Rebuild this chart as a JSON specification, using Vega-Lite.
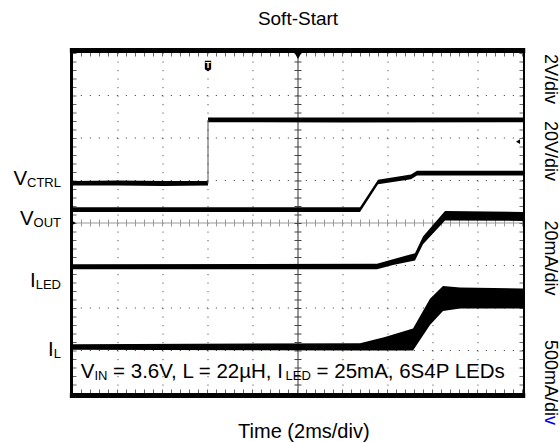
{
  "$schema": "https://vega.github.io/schema/vega-lite/v6.json",
  "width": 450,
  "height": 340,
  "autosize": {"type": "none"},
  "padding": {"left": 73, "top": 53, "right": 37, "bottom": 49},
  "background": "white",
  "config": {"view": {"stroke": null}, "text": {"font": "Liberation Sans", "color": "black"}},
  "data": {"values": [{}]},
  "datasets": {
    "traces": [
      {"s": "VCTRL", "seg": "a", "t": 0, "lo": 4.88, "hi": 4.99},
      {"s": "VCTRL", "seg": "a", "t": 1.0, "lo": 4.88, "hi": 5.0},
      {"s": "VCTRL", "seg": "a", "t": 2.0, "lo": 4.87, "hi": 4.99},
      {"s": "VCTRL", "seg": "a", "t": 3.0, "lo": 4.88, "hi": 4.99},
      {"s": "VCTRL", "seg": "b", "t": 3.0, "lo": 6.37, "hi": 6.48},
      {"s": "VCTRL", "seg": "b", "t": 6.0, "lo": 6.365, "hi": 6.485},
      {"s": "VCTRL", "seg": "b", "t": 10, "lo": 6.37, "hi": 6.48},
      {"s": "VOUT", "seg": "a", "t": 0, "lo": 4.26, "hi": 4.37},
      {"s": "VOUT", "seg": "a", "t": 6.378, "lo": 4.26, "hi": 4.37},
      {"s": "VOUT", "seg": "a", "t": 6.778, "lo": 4.91, "hi": 5.02},
      {"s": "VOUT", "seg": "a", "t": 7.511, "lo": 5.03, "hi": 5.14},
      {"s": "VOUT", "seg": "a", "t": 7.644, "lo": 5.12, "hi": 5.23},
      {"s": "VOUT", "seg": "a", "t": 10, "lo": 5.12, "hi": 5.23},
      {"s": "ILED", "seg": "a", "t": 0, "lo": 2.91, "hi": 3.03},
      {"s": "ILED", "seg": "a", "t": 6.756, "lo": 2.91, "hi": 3.04},
      {"s": "ILED", "seg": "a", "t": 7.111, "lo": 3.01, "hi": 3.15},
      {"s": "ILED", "seg": "a", "t": 7.6, "lo": 3.12, "hi": 3.29},
      {"s": "ILED", "seg": "a", "t": 7.778, "lo": 3.5, "hi": 3.68},
      {"s": "ILED", "seg": "a", "t": 8.267, "lo": 4.06, "hi": 4.28},
      {"s": "ILED", "seg": "a", "t": 10, "lo": 4.05, "hi": 4.26},
      {"s": "IL", "seg": "a", "t": 0, "lo": 1.02, "hi": 1.15},
      {"s": "IL", "seg": "a", "t": 6.378, "lo": 1.0, "hi": 1.17},
      {"s": "IL", "seg": "a", "t": 6.933, "lo": 1.0, "hi": 1.32},
      {"s": "IL", "seg": "a", "t": 7.556, "lo": 1.0, "hi": 1.52},
      {"s": "IL", "seg": "a", "t": 7.933, "lo": 1.6, "hi": 2.22},
      {"s": "IL", "seg": "a", "t": 8.222, "lo": 1.93, "hi": 2.52},
      {"s": "IL", "seg": "a", "t": 8.6, "lo": 1.99, "hi": 2.48},
      {"s": "IL", "seg": "a", "t": 10, "lo": 1.99, "hi": 2.46}
    ],
    "levels": [
      {"s": "VCTRL", "lvl": 4.93},
      {"s": "VOUT", "lvl": 4.0},
      {"s": "ILED", "lvl": 2.965},
      {"s": "IL", "lvl": 1.082}
    ],
    "gridX": [{"g": 1}, {"g": 2}, {"g": 3}, {"g": 4}, {"g": 6}, {"g": 7}, {"g": 8}, {"g": 9}],
    "gridY": [{"g": 1}, {"g": 2}, {"g": 3}, {"g": 5}, {"g": 6}, {"g": 7}],
    "leftMain": [
      {"txt": "V", "t": -1.02, "v": 4.894},
      {"txt": "V", "t": -0.876, "v": 3.953},
      {"txt": "I", "t": -0.829, "v": 2.494},
      {"txt": "I", "t": -0.427, "v": 0.871}
    ],
    "leftSub": [
      {"txt": "CTRL", "t": -0.267, "v": 4.847},
      {"txt": "OUT", "t": -0.267, "v": 3.906},
      {"txt": "LED", "t": -0.267, "v": 2.447},
      {"txt": "L", "t": -0.267, "v": 0.824}
    ],
    "noteMain": [
      {"txt": "V", "t": 0.171, "v": 0.353},
      {"txt": "= 3.6V, L = 22µH, I", "t": 0.891, "v": 0.353},
      {"txt": "= 25mA, 6S4P LEDs", "t": 5.413, "v": 0.353}
    ],
    "noteSub": [
      {"txt": "IN", "t": 0.476, "v": 0.306},
      {"txt": "LED", "t": 4.724, "v": 0.306}
    ],
    "scaleText": [
      {"txt": "2V/div", "v": 7.388},
      {"txt": "20V/div", "v": 5.694},
      {"txt": "20mA/div", "v": 3.176}
    ]
  },
  "layer": [
    {
      "data": {"name": "gridX"},
      "mark": {"type": "rule", "color": "#555", "strokeWidth": 1, "strokeDash": [1.2, 7.3]},
      "encoding": {
        "x": {"field": "g", "type": "quantitative", "scale": {"domain": [0, 10], "nice": false, "zero": false}, "axis": null}
      }
    },
    {
      "data": {"name": "gridY"},
      "mark": {"type": "rule", "color": "#555", "strokeWidth": 1, "strokeDash": [1.2, 7.8]},
      "encoding": {
        "y": {"field": "g", "type": "quantitative", "scale": {"domain": [0, 8], "nice": false, "zero": false}, "axis": null}
      }
    },
    {
      "mark": {"type": "rule", "color": "#999", "strokeWidth": 1},
      "encoding": {"y": {"datum": 4}}
    },
    {
      "mark": {"type": "rule", "color": "#999", "strokeWidth": 7, "strokeDash": [1, 8]},
      "encoding": {"y": {"datum": 4}}
    },
    {
      "mark": {"type": "rule", "color": "#333", "strokeWidth": 1},
      "encoding": {"x": {"datum": 5}}
    },
    {
      "mark": {"type": "rule", "color": "#444", "strokeWidth": 7, "strokeDash": [1, 7.5]},
      "encoding": {"x": {"datum": 5}}
    },
    {
      "mark": {"type": "rule", "color": "#666", "strokeWidth": 3.5, "strokeDash": [1, 8]},
      "encoding": {"y": {"datum": 0.041}}
    },
    {
      "mark": {"type": "rule", "color": "#666", "strokeWidth": 3.5, "strokeDash": [1, 8]},
      "encoding": {"y": {"datum": 7.959}}
    },
    {
      "mark": {"type": "rule", "color": "#666", "strokeWidth": 3.5, "strokeDash": [1, 7.5]},
      "encoding": {"x": {"datum": 0.039}}
    },
    {
      "mark": {"type": "rule", "color": "#666", "strokeWidth": 3.5, "strokeDash": [1, 7.5]},
      "encoding": {"x": {"datum": 9.961}}
    },
    {
      "data": {"name": "traces"},
      "mark": {"type": "area", "color": "black", "opacity": 1},
      "encoding": {
        "x": {"field": "t", "type": "quantitative"},
        "y": {"field": "hi", "type": "quantitative"},
        "y2": {"field": "lo"},
        "detail": [{"field": "s"}, {"field": "seg"}]
      }
    },
    {
      "mark": {"type": "rule", "color": "#555", "strokeWidth": 1},
      "encoding": {"x": {"datum": 3.0}, "y": {"datum": 4.93}, "y2": {"datum": 6.424}}
    },
    {
      "mark": {"type": "rule", "color": "black", "strokeWidth": 5},
      "encoding": {"y": {"datum": 8.059}, "x": {"datum": -0.07}, "x2": {"datum": 10.05}}
    },
    {
      "mark": {"type": "rule", "color": "black", "strokeWidth": 5},
      "encoding": {"y": {"datum": -0.059}, "x": {"datum": -0.07}, "x2": {"datum": 10.05}}
    },
    {
      "mark": {"type": "rule", "color": "black", "strokeWidth": 3},
      "encoding": {"x": {"datum": -0.033}, "y": {"datum": -0.12}, "y2": {"datum": 8.12}}
    },
    {
      "mark": {"type": "rule", "color": "black", "strokeWidth": 2},
      "encoding": {"x": {"datum": 10.022}, "y": {"datum": -0.12}, "y2": {"datum": 8.12}}
    },
    {
      "data": {"name": "levels"},
      "mark": {"type": "point", "shape": "triangle-right", "filled": true, "color": "black", "size": 40, "opacity": 1},
      "encoding": {"x": {"datum": 0.0}, "y": {"field": "lvl", "type": "quantitative"}}
    },
    {
      "mark": {"type": "point", "shape": "triangle-down", "filled": true, "color": "black", "size": 45, "opacity": 1},
      "encoding": {"x": {"datum": 5}, "y": {"datum": 7.93}}
    },
    {
      "mark": {"type": "point", "shape": "triangle-left", "filled": true, "color": "black", "size": 22, "opacity": 1},
      "encoding": {"x": {"datum": 9.889}, "y": {"datum": 5.913}}
    },
    {
      "mark": {"type": "point", "shape": "M-0.6,-1 L0.6,-1 L0.6,0.6 L0,1 L-0.6,0.6 Z", "filled": true, "color": "black", "size": 110, "opacity": 1},
      "encoding": {"x": {"datum": 3.0}, "y": {"datum": 7.694}}
    },
    {
      "mark": {"type": "text", "text": "T", "color": "white", "fontSize": 9, "fontWeight": "bold", "baseline": "middle", "align": "center"},
      "encoding": {"x": {"datum": 3.0}, "y": {"datum": 7.72}}
    },
    {
      "data": {"name": "leftMain"},
      "mark": {"type": "text", "fontSize": 20.5, "baseline": "alphabetic", "align": "right"},
      "encoding": {
        "x": {"field": "t", "type": "quantitative"},
        "y": {"field": "v", "type": "quantitative"},
        "text": {"field": "txt"}
      }
    },
    {
      "data": {"name": "leftSub"},
      "mark": {"type": "text", "fontSize": 13, "baseline": "alphabetic", "align": "right"},
      "encoding": {
        "x": {"field": "t", "type": "quantitative"},
        "y": {"field": "v", "type": "quantitative"},
        "text": {"field": "txt"}
      }
    },
    {
      "data": {"name": "noteMain"},
      "mark": {"type": "text", "fontSize": 20.5, "baseline": "alphabetic", "align": "left"},
      "encoding": {
        "x": {"field": "t", "type": "quantitative"},
        "y": {"field": "v", "type": "quantitative"},
        "text": {"field": "txt"}
      }
    },
    {
      "data": {"name": "noteSub"},
      "mark": {"type": "text", "fontSize": 13, "baseline": "alphabetic", "align": "left"},
      "encoding": {
        "x": {"field": "t", "type": "quantitative"},
        "y": {"field": "v", "type": "quantitative"},
        "text": {"field": "txt"}
      }
    },
    {
      "data": {"name": "scaleText"},
      "mark": {"type": "text", "fontSize": 18, "angle": 90, "baseline": "middle", "align": "center"},
      "encoding": {
        "x": {"datum": 10.6},
        "y": {"field": "v", "type": "quantitative"},
        "text": {"field": "txt"}
      }
    },
    {
      "mark": {"type": "text", "text": "500mA/di", "fontSize": 18, "angle": 90, "baseline": "middle", "align": "right"},
      "encoding": {"x": {"datum": 10.6}, "y": {"datum": -0.541}}
    },
    {
      "mark": {"type": "text", "text": "v", "fontSize": 18, "angle": 90, "baseline": "middle", "align": "left", "color": "#0000ee"},
      "encoding": {"x": {"datum": 10.6}, "y": {"datum": -0.541}}
    },
    {
      "mark": {"type": "text", "text": "Soft-Start", "fontSize": 19, "baseline": "alphabetic", "align": "center"},
      "encoding": {"x": {"datum": 5.0}, "y": {"datum": 8.659}}
    },
    {
      "mark": {"type": "text", "text": "Time (2ms/div)", "fontSize": 20, "baseline": "alphabetic", "align": "center"},
      "encoding": {"x": {"datum": 5.13}, "y": {"datum": -1.059}}
    }
  ]
}
